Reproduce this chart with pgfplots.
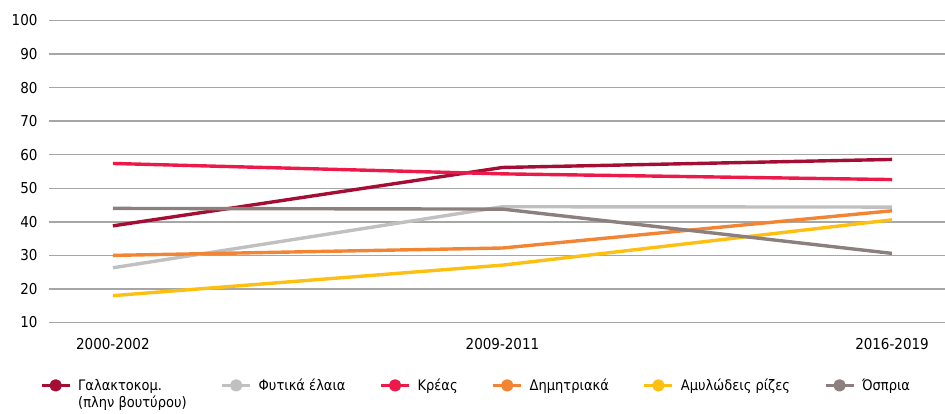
\documentclass[border=0pt]{standalone}
\usepackage{pgfplots}
\pgfplotsset{compat=1.18}
\usepackage{fontspec}
\setmainfont{DejaVu Sans Condensed}
\definecolor{cGal}{HTML}{A50E34}
\definecolor{cFyt}{HTML}{C0C0C0}
\definecolor{cKre}{HTML}{EC1A4B}
\definecolor{cDim}{HTML}{F28534}
\definecolor{cAmy}{HTML}{FDC012}
\definecolor{cOsp}{HTML}{8C807E}
\definecolor{cGrid}{HTML}{A6A6A6}
\begin{document}
\begin{tikzpicture}
\useasboundingbox (-49pt,-90.5pt) rectangle (896pt,322.5pt);
\begin{axis}[
  at={(0,0)}, anchor=south west,
  scale only axis, width=896pt, height=302pt,
  xmin=-0.164, xmax=2.136, ymin=10, ymax=100,
  xtick={0,1,2}, xticklabels={2000-2002,2009-2011,2016-2019},
  ytick={10,20,...,100},
  axis line style={draw=none},
  tick style={draw=none},
  ymajorgrids, grid style={cGrid, line width=1.4pt},
  font=\fontsize{14.5}{17}\selectfont,
  tick label style={font=\fontsize{15}{17}\selectfont},
  /pgf/number format/assume math mode=true,
  yticklabel style={xshift=-8pt},
  xticklabel style={yshift=-12pt},
  every axis plot/.append style={line width=3.4pt, line join=round},
  legend columns=6,
  legend cell align=left,
  legend style={at={(-9pt,-54pt)}, anchor=north west, draw=none, fill=none, inner sep=0pt,
    font=\fontsize{14.5}{17}\selectfont,
    /tikz/every odd column/.append style={column sep=5pt},
    /tikz/every even column/.append style={column sep=32pt}},
  legend image code/.code={
    \draw[#1, line width=3pt] (0pt,0pt) -- (28pt,0pt);
    \fill[#1] (14pt,0pt) circle (4.5pt);
  },
]
\addplot[cGal] coordinates {(0,38.8) (1,56.2) (2,58.6)};
\addlegendentry{\begin{tabular}[t]{@{}l@{}}Γαλακτοκομ.\\(πλην βουτύρου)\end{tabular}}
\addplot[cFyt] coordinates {(0,26.3) (1,44.5) (2,44.4)};
\addlegendentry{Φυτικά έλαια}
\addplot[cKre] coordinates {(0,57.4) (1,54.3) (2,52.6)};
\addlegendentry{Κρέας}
\addplot[cDim] coordinates {(0,30.0) (1,32.2) (2,43.3)};
\addlegendentry{Δημητριακά}
\addplot[cAmy] coordinates {(0,18.0) (1,27.1) (2,40.6)};
\addlegendentry{Αμυλώδεις ρίζες}
\addplot[cOsp] coordinates {(0,44.0) (1,43.8) (2,30.6)};
\addlegendentry{Όσπρια}
\end{axis}
\end{tikzpicture}
\end{document}
